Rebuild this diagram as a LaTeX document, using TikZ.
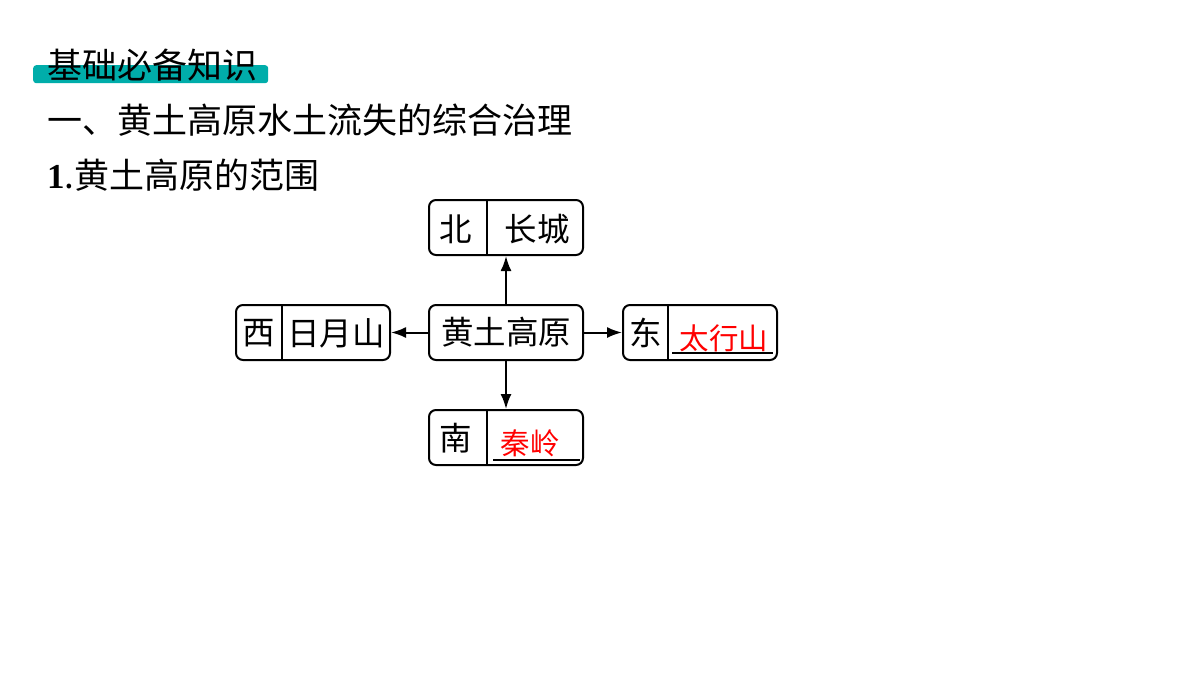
\documentclass[tikz,border=0pt]{standalone}
\usepackage{fontspec}
\setmainfont{Liberation Serif}
\newfontfamily\cjk{Noto Sans CJK SC}
\usetikzlibrary{arrows.meta}
\definecolor{tealbar}{RGB}{0,173,170}
\definecolor{ansred}{RGB}{255,0,0}
\tikzset{
  box/.style={draw, line width=2pt, rounded corners=7pt, minimum width=154pt, minimum height=55pt, inner sep=0pt},
  divider/.style={line width=1.2pt},
  boxtext/.style={font=\cjk\fontsize{32.5}{36}\selectfont, inner sep=0pt, anchor=center},
  anstext/.style={boxtext, font=\cjk\fontsize{29.5}{34}\selectfont, text=ansred},
  ansline/.style={line width=1.6pt},
  conn/.style={line width=2pt, -{Latex[length=15pt,width=11pt]}},
  heading/.style={font=\cjk\fontsize{35}{40}\selectfont, inner sep=0pt, anchor=west}
}
\begin{document}
\begin{tikzpicture}[x=1pt,y=-1pt]
\useasboundingbox[fill=white] (0,0) rectangle (1200,675);
% header
\node[fill=tealbar, rounded corners=3pt, minimum width=235pt, minimum height=18pt, inner sep=0pt, anchor=north west] (bar) at (33,65) {};
\node[heading] (h0) at (47,65) {基础必备知识};
\node[heading] (h1) at (47,120) {一、黄土高原水土流失的综合治理};
\node[heading] (h2) at (47,175) {{\fontspec{Liberation Serif}\bfseries 1}.黄土高原的范围};
% boxes
\node[box] (c) at (506,332.5) {};
\node[boxtext] (ct) at (506,332.5) {黄土高原};
\node[box] (n) at (506,227.5) {};
\draw[divider] (487,200) -- (487,255);
\node[boxtext] (nl) at (456,229) {北};
\node[boxtext] (nr) at (537,229) {长城};
\node[box] (w) at (313,332.5) {};
\draw[divider] (282,305) -- (282,360);
\node[boxtext] (wl) at (259,333) {西};
\node[boxtext] (wr) at (336,333) {日月山};
\node[box] (e) at (700,332.5) {};
\draw[divider] (668,305) -- (668,360);
\node[boxtext] (el) at (646,333) {东};
\node[anstext] (er) at (724,338) {太行山};
\coordinate (eu1) at (672,353);
\coordinate (eu2) at (773,353);
\draw[ansline] (eu1) -- (eu2);
\node[box] (s) at (506,437.5) {};
\draw[divider] (487,410) -- (487,465);
\node[boxtext] (sl) at (456,438) {南};
\node[anstext] (sr) at (530,443) {秦岭};
\coordinate (su1) at (493,460);
\coordinate (su2) at (580,460);
\draw[ansline] (su1) -- (su2);
% connectors
\draw[conn] (c.north) -- (n.south);
\draw[conn] (c.south) -- (s.north);
\draw[conn] (c.west) -- (w.east);
\draw[conn] (c.east) -- (e.west);
\end{tikzpicture}
\end{document}
